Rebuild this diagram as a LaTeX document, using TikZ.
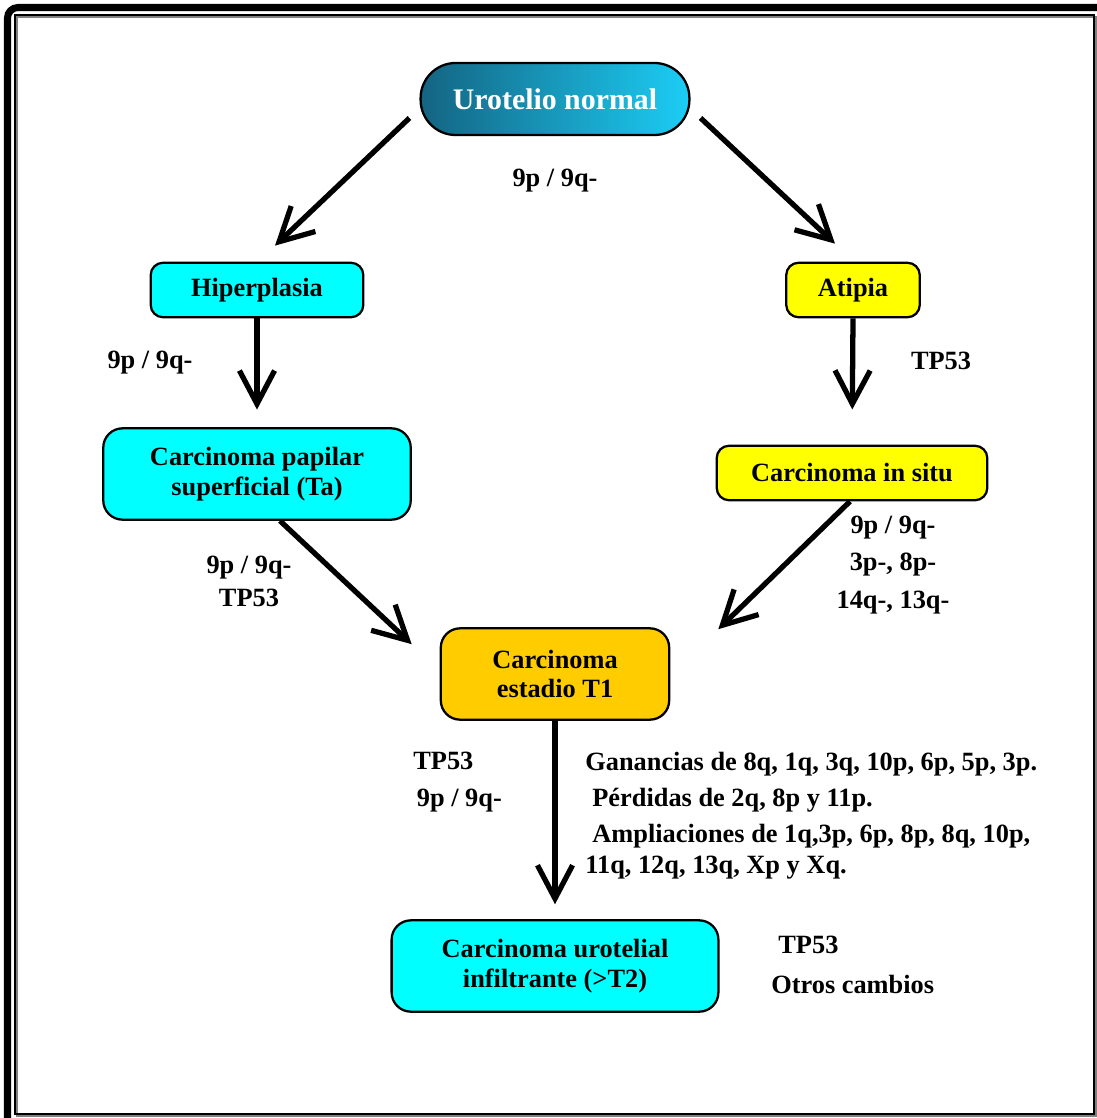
\documentclass[tikz,border=0pt]{standalone}
\usepackage{fontspec}
\setmainfont{Liberation Serif}
\usepackage{tikz}
\usetikzlibrary{arrows.meta}

\definecolor{celeste}{RGB}{0,255,255}
\definecolor{amarillo}{RGB}{255,255,0}
\definecolor{naranja}{RGB}{255,204,0}
\definecolor{azulosc}{RGB}{20,100,130}
\definecolor{azulcla}{RGB}{28,205,245}

\begin{document}
\begin{tikzpicture}[x=0.02cm, y=-0.02cm,
    box/.style={draw, line width=1.3pt, rounded corners=7pt, align=center,
        inner sep=0pt, font=\fontsize{15}{17}\selectfont\bfseries},
    lbl/.style={align=center, inner sep=0pt, font=\fontsize{15}{17}\selectfont\bfseries},
    arr/.style={line width=3pt, -{Straight Barb[length=19pt, width=20pt]}}]
    \useasboundingbox (0,0) rectangle (1096,1118);
    % marco
    \draw[line width=4pt, rounded corners=6pt] (7.5,7.5) rectangle (1130,1150);
    \draw[gray, line width=1.2pt] (17,17) rectangle (1096,1116);
    \draw[line width=1.2pt] (15,15) rectangle (1094,1114);

    % cajas
    \node[box, rounded corners=20pt, minimum width=153pt, minimum height=41pt,
        left color=azulosc, right color=azulcla, text=white,
        font=\fontsize{17}{19}\selectfont\bfseries] (uro) at (555,99) {Urotelio normal};
    \node[box, fill=celeste, minimum width=121pt, minimum height=31pt] (hip) at (257,290) {Hiperplasia};
    \node[box, fill=amarillo, minimum width=76pt, minimum height=31pt] (ati) at (853,290) {Atipia};
    \node[box, fill=celeste, rounded corners=11pt, minimum width=175pt, minimum height=52pt] (pap) at (257,474)
        {Carcinoma papilar\\superficial (Ta)};
    \node[box, fill=amarillo, minimum width=154pt, minimum height=31pt] (cis) at (852,473) {Carcinoma in situ};
    \node[box, fill=naranja, rounded corners=11pt, minimum width=130pt, minimum height=52pt] (t1) at (555,674)
        {Carcinoma\\estadio T1};
    \node[box, fill=celeste, rounded corners=11pt, minimum width=186pt, minimum height=52pt] (inf) at (555,966)
        {Carcinoma urotelial\\infiltrante (>T2)};

    % flechas
    \draw[arr] ([shift={(-10,19)}]uro.west) -- ([shift={(18,-16)}]hip.north);
    \draw[arr] ([shift={(10,19)}]uro.east) -- ([shift={(-18,-18)}]ati.north);
    \draw[arr, shorten >=10pt] (hip.south) -- (pap.north);
    \draw[arr, shorten >=20pt] (ati.south) -- (cis.north);
    \draw[arr] ([shift={(23,0)}]pap.south) -- ([shift={(-28,17)}]t1.north west);
    \draw[arr] ([shift={(-2,0)}]cis.south) -- ([shift={(48,2)}]t1.north east);
    \draw[arr, shorten >=8.5pt] (t1.south) -- (inf.north);

    % etiquetas
    \node[lbl] (l1) at (555,181) {9p / 9q-};
    \node[lbl] (l2) at (150,363) {9p / 9q-};
    \node[lbl] (l3) at (941,361) {TP53};
    \node[lbl, font=\fontsize{15}{18.7}\selectfont\bfseries] (l4) at (249,581) {9p / 9q-\\TP53};
    \node[lbl, font=\fontsize{15}{21.5}\selectfont\bfseries] (l5) at (893,565) {9p / 9q-\\3p-, 8p-\\14q-, 13q-};
    \node[lbl, anchor=west, align=left, font=\fontsize{15}{21.5}\selectfont\bfseries] (l6) at (413,782)
        {TP53\\\hspace*{2pt}9p / 9q-};
    \node[lbl, anchor=north west, align=left, font=\fontsize{15}{20.4}\selectfont\bfseries] (l7) at (585,752)
        {Ganancias de 8q, 1q, 3q, 10p, 6p, 5p, 3p.\\
        \hspace*{4pt}Pérdidas de 2q, 8p y 11p.\\
        \hspace*{4pt}Ampliaciones de 1q,3p, 6p, 8p, 8q, 10p,\\[-2.4pt]
        11q, 12q, 13q, Xp y Xq.};
    \node[lbl, anchor=west, align=left, font=\fontsize{15}{22.7}\selectfont\bfseries] (l8) at (771,965)
        {\hspace*{4pt}TP53\\Otros cambios};
\end{tikzpicture}
\end{document}
